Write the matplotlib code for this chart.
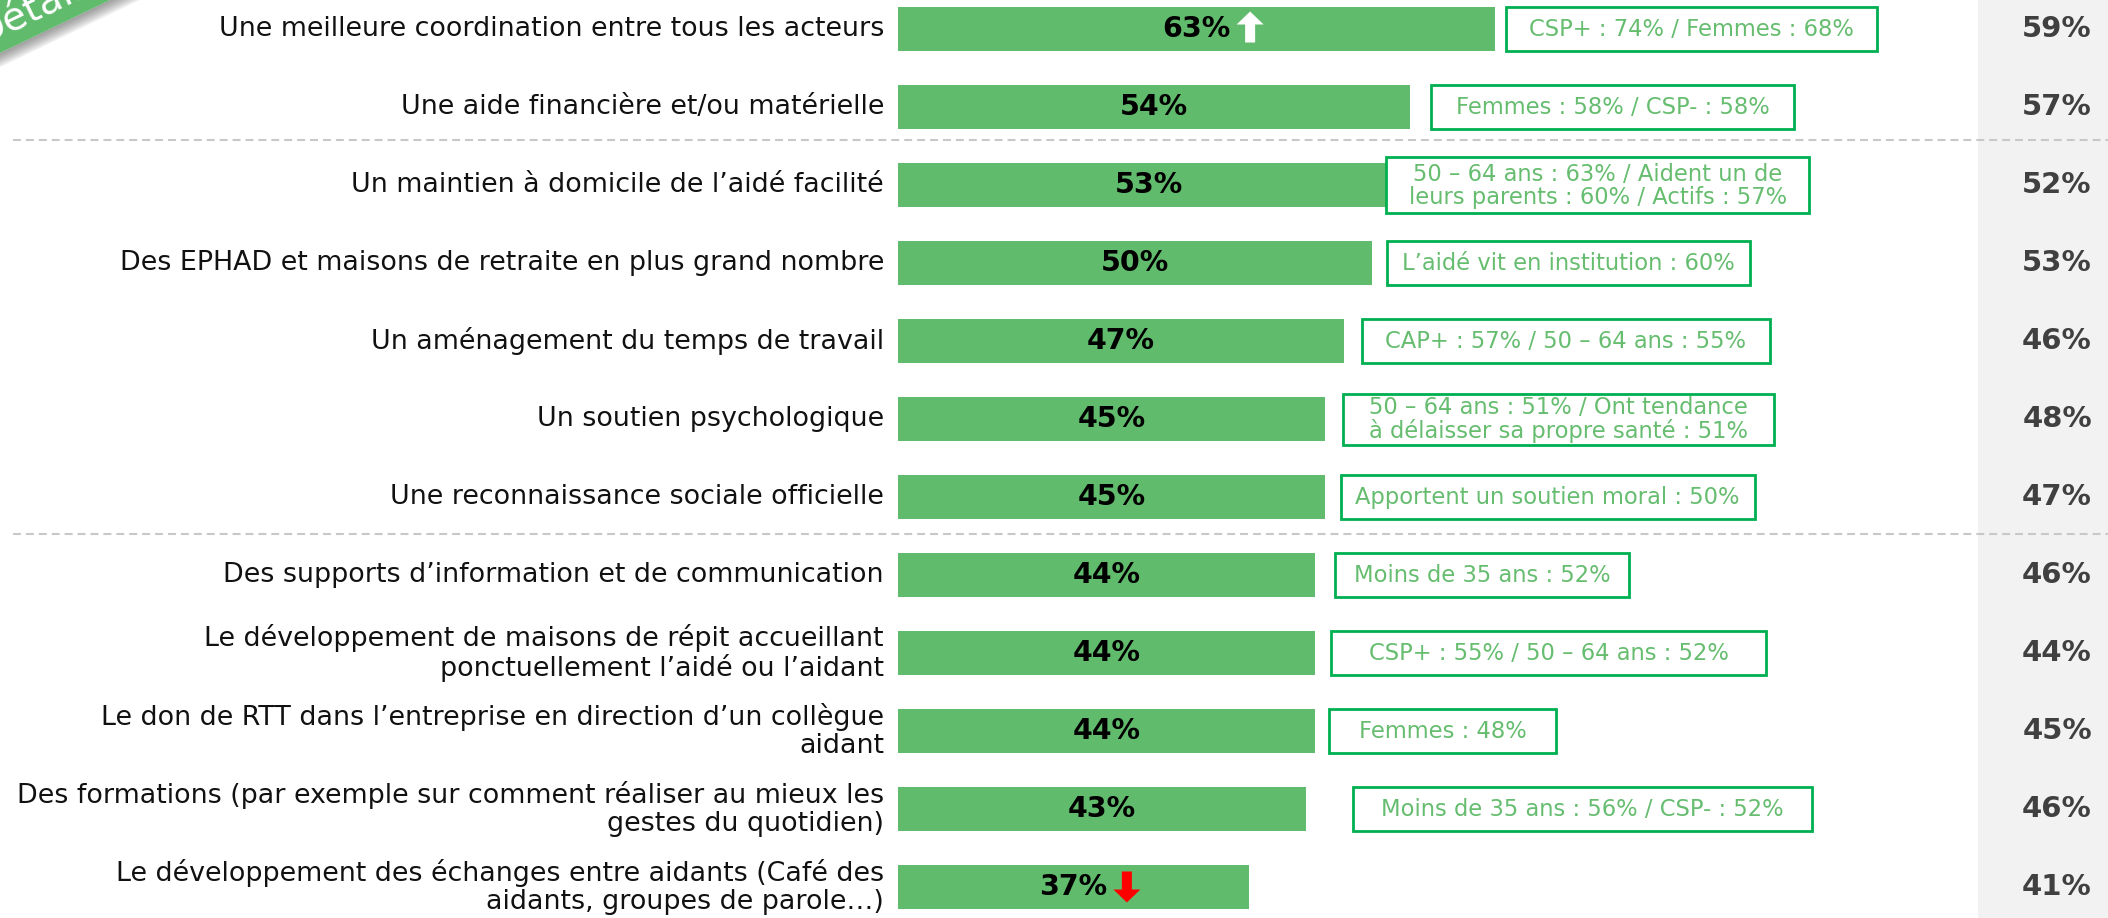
import matplotlib.pyplot as plt
from matplotlib.patches import Rectangle, Polygon
import numpy as np

# survey items, top to bottom
categories = [
    "Une meilleure coordination entre tous les acteurs",
    "Une aide financière et/ou matérielle",
    "Un maintien à domicile de l’aidé facilité",
    "Des EPHAD et maisons de retraite en plus grand nombre",
    "Un aménagement du temps de travail",
    "Un soutien psychologique",
    "Une reconnaissance sociale officielle",
    "Des supports d’information et de communication",
    "Le développement de maisons de répit accueillant\nponctuellement l’aidé ou l’aidant",
    "Le don de RTT dans l’entreprise en direction d’un collègue\naidant",
    "Des formations (par exemple sur comment réaliser au mieux les\ngestes du quotidien)",
    "Le développement des échanges entre aidants (Café des\naidants, groupes de parole…)",
]
scores = [63, 54, 53, 50, 47, 45, 45, 44, 44, 44, 43, 37]
previous = [59, 57, 52, 53, 46, 48, 47, 46, 44, 45, 46, 41]
details = [
    "CSP+ : 74% / Femmes : 68%",
    "Femmes : 58% / CSP- : 58%",
    "50 – 64 ans : 63% / Aident un de\nleurs parents : 60% / Actifs : 57%",
    "L’aidé vit en institution : 60%",
    "CAP+ : 57% / 50 – 64 ans : 55%",
    "50 – 64 ans : 51% / Ont tendance\nà délaisser sa propre santé : 51%",
    "Apportent un soutien moral : 50%",
    "Moins de 35 ans : 52%",
    "CSP+ : 55% / 50 – 64 ans : 52%",
    "Femmes : 48%",
    "Moins de 35 ans : 56% / CSP- : 52%",
    None,
]
trends = ["up", None, None, None, None, None, None, None, None, None, None, "down"]
group_breaks = [1.42, 6.48]

# page layout in pixels
W, H = 2108, 918
BAR_X0 = 898
PX_PER_PCT = 9.48
ROW0 = 29
ROW_STEP = 78

# detail box placement: gap after the bar and box size, in pixels
box_gap = [11, 21, -14, 15, 18, 18, 16, 20, 16, 14, 47, 0]
box_width = [371, 363, 423, 363, 408, 431, 414, 294, 435, 227, 459, 0]
box_height = [44, 44, 56, 44, 44, 51, 44, 44, 44, 44, 44, 0]

BAR_GREEN = "#61bb6d"
BOX_EDGE = "#00b050"
BOX_TEXT = "#66bd6f"


def dx(px):
    return px / PX_PER_PCT


def dy(px):
    return px / ROW_STEP


fig = plt.figure(figsize=(W / 100, H / 100), dpi=100)
ax = fig.add_axes([0, 0, 1, 1])
ax.set_xlim(-dx(BAR_X0), dx(W - BAR_X0))
ax.set_ylim(dy(H - ROW0), -dy(ROW0))
ax.axis("off")

rows = np.arange(len(categories))

# grey column behind the previous wave results
ax.axvspan(dx(1978 - BAR_X0), dx(W - BAR_X0), color="#f2f2f2", zorder=0, lw=0)

ax.barh(rows, scores, height=dy(44), color=BAR_GREEN, zorder=2)

for i, (cat, v, prev, det) in enumerate(zip(categories, scores, previous, details)):
    ax.text(-dx(14), i, cat, ha="right", va="center", fontsize=19.4,
            color="#111111", linespacing=1.1, zorder=4)
    ax.text(v / 2, i, f"{v}%", ha="center", va="center", fontsize=20.5,
            fontweight="bold", color="black", zorder=4)
    ax.text(dx(2057 - BAR_X0), i, f"{prev}%", ha="center", va="center",
            fontsize=21, fontweight="bold", color="#404040", zorder=4)

    if det is not None:
        x0 = v + dx(box_gap[i])
        h = dy(box_height[i])
        ax.add_patch(Rectangle((x0, i - h / 2), dx(box_width[i]), h,
                               facecolor="white", edgecolor=BOX_EDGE, lw=2, zorder=3))
        ax.text(x0 + dx(box_width[i]) / 2, i + dy(1), det, ha="center", va="center",
                fontsize=16.3, color=BOX_TEXT, linespacing=1.0, zorder=4)

    # evolution arrows next to the bar label
    if trends[i] is not None:
        left = v / 2 + dx(40)
        w, hh, shaft, head = 27, 31, 10, 13
        top = i - dy(hh / 2) - dy(2)
        if trends[i] == "up":
            pts = [(w / 2, 0), (w, head), ((w + shaft) / 2, head), ((w + shaft) / 2, hh),
                   ((w - shaft) / 2, hh), ((w - shaft) / 2, head), (0, head)]
            col = "white"
        else:
            pts = [(w / 2, hh), (w, hh - head), ((w + shaft) / 2, hh - head), ((w + shaft) / 2, 0),
                   ((w - shaft) / 2, 0), ((w - shaft) / 2, hh - head), (0, hh - head)]
            col = "#ff0000"
            top = i - dy(hh / 2)
        ax.add_patch(Polygon([(left + dx(px), top + dy(py)) for px, py in pts],
                             closed=True, facecolor=col, edgecolor="none", zorder=5))

for yb in group_breaks:
    ax.plot([dx(13 - BAR_X0), dx(W - BAR_X0)], [yb, yb], color="#c8c8c8", lw=1.5,
            ls=(0, (3.8, 2.4)), zorder=1)

# corner ribbon, drawn in pixel space
deco = fig.add_axes([0, 0, 1, 1], zorder=10)
deco.set_xlim(0, W)
deco.set_ylim(H, 0)
deco.axis("off")
ang = np.deg2rad(25.7)
along = np.array([np.cos(ang), -np.sin(ang)])
normal = np.array([-np.sin(ang), -np.cos(ang)])
p0 = np.array([0.0, 53.0])
a, b = p0 - 80 * along, p0 + 260 * along
for k in range(8):
    off = -(k + 1) * 1.6
    deco.add_patch(Polygon([a + off * normal, b + off * normal, b, a], closed=True,
                           facecolor="#555555", alpha=0.09, edgecolor="none"))
deco.add_patch(Polygon([a, b, b + 90 * normal, a + 90 * normal], closed=True,
                       facecolor=BAR_GREEN, edgecolor="none"))
deco.text(-18, 46, "Détail", rotation=25.7, rotation_mode="anchor", ha="left",
          va="baseline", fontsize=28, color="white")

fig.savefig("out.png", dpi=100)
